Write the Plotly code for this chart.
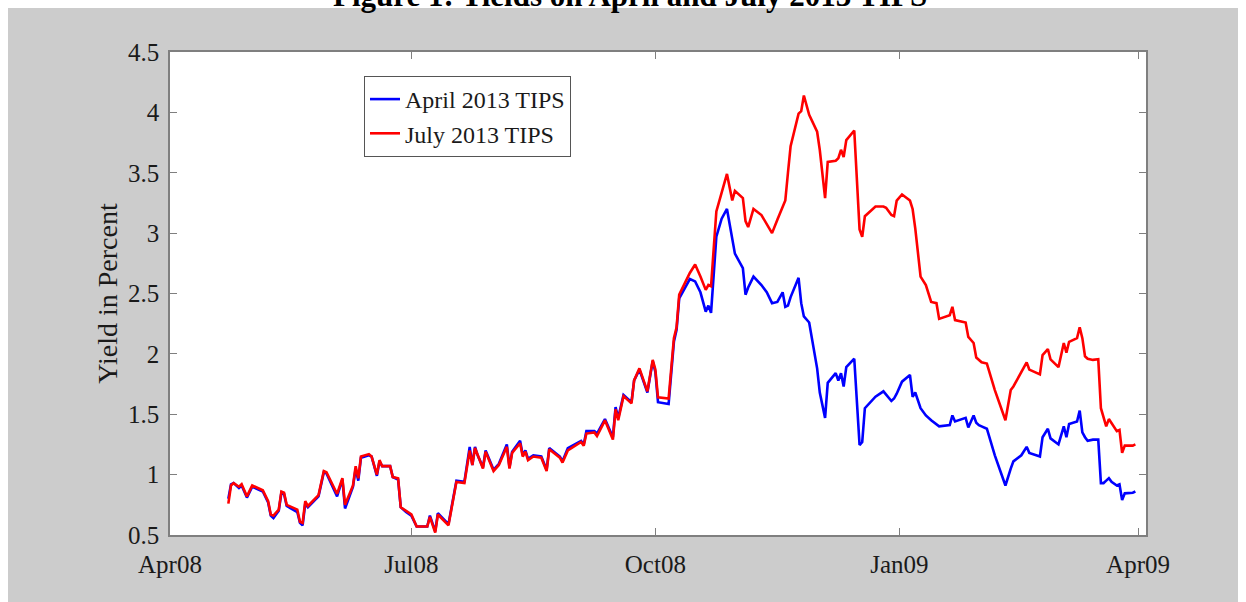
import plotly.graph_objects as go

# Trading dates and real yields (percent) for the two TIPS issues
dates = [
    "2008-04-23", "2008-04-24", "2008-04-25", "2008-04-27", "2008-04-28", "2008-04-30",
    "2008-05-02", "2008-05-05", "2008-05-06", "2008-05-08", "2008-05-09", "2008-05-10",
    "2008-05-12", "2008-05-13", "2008-05-14", "2008-05-15", "2008-05-19", "2008-05-20",
    "2008-05-21", "2008-05-22", "2008-05-23", "2008-05-27", "2008-05-29", "2008-05-30",
    "2008-06-03", "2008-06-05", "2008-06-06", "2008-06-09", "2008-06-10", "2008-06-11",
    "2008-06-12", "2008-06-15", "2008-06-16", "2008-06-18", "2008-06-19", "2008-06-20",
    "2008-06-23", "2008-06-24", "2008-06-26", "2008-06-27", "2008-06-29",
    "2008-07-01", "2008-07-03", "2008-07-07", "2008-07-08", "2008-07-10", "2008-07-11",
    "2008-07-15", "2008-07-18", "2008-07-21", "2008-07-23", "2008-07-24", "2008-07-25",
    "2008-07-26", "2008-07-28", "2008-07-29",
    "2008-08-01", "2008-08-03", "2008-08-06", "2008-08-07", "2008-08-08", "2008-08-11",
    "2008-08-12", "2008-08-13", "2008-08-14", "2008-08-16", "2008-08-19", "2008-08-21",
    "2008-08-22", "2008-08-26", "2008-08-27", "2008-08-29",
    "2008-09-03", "2008-09-04", "2008-09-05", "2008-09-08", "2008-09-09", "2008-09-12",
    "2008-09-15", "2008-09-16", "2008-09-17", "2008-09-19", "2008-09-22", "2008-09-23",
    "2008-09-25", "2008-09-28", "2008-09-30",
    "2008-10-01", "2008-10-02", "2008-10-06", "2008-10-08", "2008-10-09", "2008-10-10",
    "2008-10-14", "2008-10-16", "2008-10-18", "2008-10-20", "2008-10-21", "2008-10-22",
    "2008-10-24", "2008-10-26", "2008-10-28", "2008-10-30", "2008-10-31",
    "2008-11-03", "2008-11-04", "2008-11-05", "2008-11-07", "2008-11-10", "2008-11-12",
    "2008-11-14", "2008-11-16", "2008-11-18", "2008-11-19", "2008-11-20", "2008-11-21",
    "2008-11-24", "2008-11-25", "2008-11-26", "2008-11-28",
    "2008-12-01", "2008-12-02", "2008-12-04", "2008-12-05", "2008-12-08", "2008-12-09",
    "2008-12-10", "2008-12-11", "2008-12-12", "2008-12-15", "2008-12-17", "2008-12-18",
    "2008-12-19", "2008-12-23", "2008-12-26", "2008-12-27", "2008-12-29", "2008-12-30",
    "2008-12-31",
    "2009-01-02", "2009-01-05", "2009-01-06", "2009-01-07", "2009-01-09", "2009-01-11",
    "2009-01-13", "2009-01-15", "2009-01-16", "2009-01-20", "2009-01-21", "2009-01-22",
    "2009-01-26", "2009-01-27", "2009-01-29", "2009-01-30", "2009-01-31",
    "2009-02-01", "2009-02-03", "2009-02-06", "2009-02-10", "2009-02-12", "2009-02-13",
    "2009-02-16", "2009-02-18", "2009-02-19", "2009-02-23", "2009-02-24", "2009-02-26",
    "2009-02-27",
    "2009-03-02", "2009-03-04", "2009-03-05", "2009-03-06", "2009-03-09", "2009-03-10",
    "2009-03-11", "2009-03-12", "2009-03-13", "2009-03-15", "2009-03-17", "2009-03-18",
    "2009-03-19", "2009-03-20", "2009-03-21", "2009-03-22", "2009-03-24", "2009-03-25",
    "2009-03-26", "2009-03-27", "2009-03-30", "2009-03-31",
]

april_2013 = [
    0.80, 0.92, 0.93, 0.89, 0.91, 0.81,
    0.90, 0.87, 0.86, 0.77, 0.66, 0.64,
    0.70, 0.85, 0.84, 0.74, 0.69, 0.60,
    0.58, 0.76, 0.73, 0.82, 1.02, 1.01,
    0.82, 0.96, 0.72, 0.90, 1.05, 0.95,
    1.14, 1.16, 1.15, 0.99, 1.11, 1.07,
    1.07, 0.98, 0.96, 0.73, 0.69,
    0.66, 0.57, 0.57, 0.66, 0.53, 0.68,
    0.59, 0.95, 0.94, 1.23, 1.08, 1.23,
    1.16, 1.06, 1.20,
    1.04, 1.09, 1.25, 1.06, 1.19, 1.28,
    1.16, 1.20, 1.13, 1.16, 1.15, 1.04,
    1.22, 1.15, 1.11, 1.22,
    1.28, 1.25, 1.36, 1.36, 1.34, 1.46,
    1.31, 1.56, 1.47, 1.66, 1.60, 1.78,
    1.87, 1.68, 1.94,
    1.85, 1.60, 1.585, 2.10, 2.20, 2.46,
    2.62, 2.60, 2.51, 2.35, 2.40, 2.34,
    2.97, 3.12, 3.20, 2.95, 2.83,
    2.71, 2.49, 2.55, 2.64, 2.57, 2.51,
    2.42, 2.43, 2.51, 2.39, 2.40, 2.47,
    2.63, 2.42, 2.31, 2.26,
    1.88, 1.68, 1.47, 1.76, 1.84, 1.78,
    1.84, 1.73, 1.89, 1.96, 1.245, 1.27,
    1.55, 1.645, 1.69, 1.66, 1.61, 1.63,
    1.67,
    1.77, 1.825, 1.645, 1.68, 1.55, 1.49,
    1.45, 1.42, 1.40, 1.41, 1.49, 1.44,
    1.47, 1.39, 1.49, 1.43, 1.41,
    1.40, 1.38, 1.16, 0.91, 1.05, 1.11,
    1.16, 1.23, 1.18, 1.15, 1.31, 1.38,
    1.30,
    1.25, 1.40, 1.31, 1.42, 1.44, 1.53,
    1.35, 1.31, 1.28, 1.29, 1.29, 0.93,
    0.93, 0.95, 0.97, 0.94, 0.91, 0.92,
    0.79, 0.845, 0.85, 0.86,
]

july_2013 = [
    0.76, 0.91, 0.93, 0.90, 0.92, 0.82,
    0.91, 0.88, 0.87, 0.78, 0.67, 0.66,
    0.71, 0.86, 0.85, 0.75, 0.71, 0.61,
    0.60, 0.78, 0.74, 0.83, 1.03, 1.02,
    0.84, 0.97, 0.75, 0.91, 1.07, 0.97,
    1.15, 1.17, 1.15, 1.00, 1.12, 1.07,
    1.07, 0.98, 0.97, 0.73, 0.70,
    0.67, 0.57, 0.57, 0.65, 0.52, 0.67,
    0.58, 0.94, 0.93, 1.20, 1.08, 1.22,
    1.16, 1.05, 1.19,
    1.03, 1.08, 1.23, 1.05, 1.18, 1.26,
    1.15, 1.19, 1.12, 1.15, 1.14, 1.03,
    1.21, 1.14, 1.10, 1.20,
    1.27, 1.24, 1.34, 1.35, 1.32, 1.45,
    1.29, 1.54, 1.45, 1.65, 1.59, 1.78,
    1.88, 1.69, 1.95,
    1.87, 1.64, 1.63, 2.13, 2.22, 2.49,
    2.67, 2.74, 2.64, 2.53, 2.57, 2.56,
    3.18, 3.33, 3.49, 3.27, 3.35,
    3.29, 3.10, 3.05, 3.20, 3.15, 3.07,
    3.00, 3.11, 3.21, 3.27, 3.50, 3.72,
    3.99, 4.01, 4.14, 3.98,
    3.84, 3.69, 3.29, 3.59, 3.60, 3.62,
    3.69, 3.63, 3.77, 3.85, 3.03, 2.97,
    3.14, 3.22, 3.22, 3.21, 3.15, 3.14,
    3.27,
    3.32, 3.27, 3.20, 3.04, 2.64, 2.57,
    2.43, 2.42, 2.29, 2.32, 2.39, 2.28,
    2.26, 2.14, 2.09, 1.97, 1.95,
    1.93, 1.92, 1.70, 1.45, 1.70, 1.73,
    1.85, 1.93, 1.87, 1.83, 1.99, 2.04,
    1.955,
    1.89, 2.09, 2.01, 2.10, 2.13, 2.22,
    2.13, 1.98, 1.96, 1.95, 1.955, 1.55,
    1.47, 1.40, 1.46, 1.43, 1.36, 1.37,
    1.18, 1.24, 1.24, 1.25,
]

x_ticks = ["2008-04-01", "2008-07-01", "2008-10-01", "2009-01-01", "2009-04-01"]
x_tick_labels = ["Apr08", "Jul08", "Oct08", "Jan09", "Apr09"]
y_ticks = [0.5, 1, 1.5, 2, 2.5, 3, 3.5, 4, 4.5]

SERIF = "Liberation Serif, Times New Roman, serif"
AXIS_GREY = "#7f7f7f"

fig = go.Figure()
fig.add_trace(go.Scatter(
    x=dates, y=april_2013, mode="lines", name="April 2013 TIPS",
    line=dict(color="#0000ff", width=2.6),
))
fig.add_trace(go.Scatter(
    x=dates, y=july_2013, mode="lines", name="July 2013 TIPS",
    line=dict(color="#ff0000", width=2.6),
))

axis_common = dict(
    showline=True, linecolor=AXIS_GREY, linewidth=1.5, mirror="ticks",
    ticks="inside", ticklen=7, tickwidth=1, tickcolor=AXIS_GREY,
    showgrid=False, zeroline=False,
    tickfont=dict(family=SERIF, size=25, color="#1a1a1a"),
)

fig.update_xaxes(
    range=["2008-04-01", "2009-04-04"],
    tickmode="array", tickvals=x_ticks, ticktext=x_tick_labels,
    ticklabelstandoff=6,
    **axis_common,
)
fig.update_yaxes(
    range=[0.5, 4.5],
    tickmode="array", tickvals=y_ticks,
    ticklabelstandoff=4,
    title=dict(text="Yield in Percent", font=dict(family=SERIF, size=28, color="#1a1a1a"),
               standoff=2),
    **axis_common,
)

W, H = 1246, 602
L, R, T, B = 170, 100, 52, 67
pw, ph = W - L - R, H - T - B

def px_x(p):
    return (p - L) / pw

def px_y(p):
    return (H - B - p) / ph

# white page border around the grey figure panel
white_strips = [
    (px_x(0), px_y(0) + 0.05, px_x(W), px_y(8)),
    (px_x(0) - 0.01, px_y(0) + 0.05, px_x(8), px_y(H) - 0.05),
    (px_x(1238), px_y(0) + 0.05, px_x(W) + 0.01, px_y(H) - 0.05),
]
shapes = [
    dict(type="rect", xref="paper", yref="paper", x0=a, y0=b, x1=c, y1=d,
         fillcolor="white", line=dict(width=0), layer="below")
    for a, b, c, d in white_strips
]

fig.update_layout(
    width=W, height=H, autosize=False,
    margin=dict(l=L, r=R, t=T, b=B),
    paper_bgcolor="#cccccc", plot_bgcolor="white",
    showlegend=True,
    legend=dict(
        x=px_x(364), y=px_y(76), xanchor="left", yanchor="top",
        bgcolor="white", bordercolor="#555555", borderwidth=1,
        font=dict(family=SERIF, size=24, color="#1a1a1a"),
        itemwidth=30, tracegroupgap=0,
    ),
    shapes=shapes,
    annotations=[dict(
        text="<b>Figure 1: Yields on April and July 2013 TIPS</b>",
        xref="paper", yref="paper", x=px_x(630), y=px_y(-4),
        xanchor="center", yanchor="middle", showarrow=False,
        font=dict(family=SERIF, size=31, color="black"),
    )],
)

fig.write_html("out.html")
